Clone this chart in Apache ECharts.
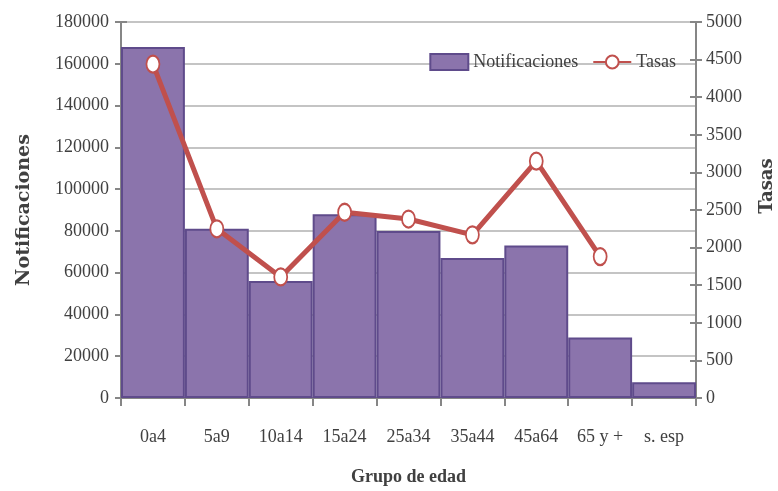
<!DOCTYPE html>
<html>
<head>
<meta charset="utf-8">
<script src="https://cdn.jsdelivr.net/npm/echarts@6/dist/echarts.min.js"></script>
<style>
html,body{margin:0;padding:0;background:#fff;}
#chart{width:778px;height:491px;}
</style>
</head>
<body>
<div id="chart"></div>
<script>
const categories = ['0a4','5a9','10a14','15a24','25a34','35a44','45a64','65 y +','s. esp'];
const notificaciones = [168000, 81000, 56000, 88000, 80000, 67000, 73000, 29000, 7500];
const tasas = [4440, 2250, 1610, 2470, 2380, 2170, 3150, 1880, null];

const FONT = 'Liberation Serif';
const TXT = '#404040';
const AX = '#868686';
const innerTicks = (pos, max, interval) => ({
  type:'value', min:0, max:max, interval:interval, position:pos,
  axisLine:{show:false}, axisLabel:{show:false}, splitLine:{show:false},
  axisTick:{show:true, inside:true, length:6, lineStyle:{color:AX, width:2}}
});
const chart = echarts.init(document.getElementById('chart'), null, {renderer:'canvas'});
chart.setOption({
  animation:false,
  backgroundColor:'#fff',
  grid:{left:121, right:82, top:22, bottom:93, containLabel:false, outerBoundsMode:'none'},
  legend:{
    top:48, right:97, itemGap:14, itemWidth:38, itemHeight:16,
    textStyle:{fontFamily:FONT, fontSize:18, color:TXT},
    data:[
      {name:'Notificaciones', icon:'rect', itemStyle:{color:'#8B74AC', borderColor:'#5F4B8B', borderWidth:2}},
      {name:'Tasas'}
    ]
  },
  xAxis:{
    type:'category', data:categories, boundaryGap:true,
    name:'Grupo de edad', nameLocation:'middle', nameGap:70,
    nameTextStyle:{fontFamily:FONT, fontSize:18, fontWeight:'bold', color:TXT},
    axisLine:{lineStyle:{color:AX, width:2}},
    axisTick:{show:true, length:8, lineStyle:{color:AX, width:2}},
    axisLabel:{fontFamily:FONT, fontSize:18, color:TXT, margin:30}
  },
  yAxis:[
    {
      type:'value', min:0, max:180000, interval:20000,
      name:'Notificaciones', nameLocation:'middle', nameGap:87, nameRotate:90,
      nameTextStyle:{fontFamily:'DejaVu Serif', fontSize:19, fontWeight:'bold', color:TXT},
      axisLine:{show:true, lineStyle:{color:AX, width:2}},
      axisTick:{show:true, length:6, lineStyle:{color:AX, width:2}},
      axisLabel:{fontFamily:FONT, fontSize:18, color:TXT, margin:12, formatter:(v)=>String(v)},
      splitLine:{show:true, lineStyle:{color:'#C4C4C4', width:2}}
    },
    {
      type:'value', min:0, max:5000, interval:500, position:'right',
      name:'Tasas', nameLocation:'middle', nameGap:62, nameRotate:90,
      nameTextStyle:{fontFamily:'DejaVu Serif', fontSize:18, fontWeight:'bold', color:TXT, padding:[0,0,0,48]},
      axisLine:{show:true, lineStyle:{color:AX, width:2}},
      axisTick:{show:true, length:6, lineStyle:{color:AX, width:2}},
      axisLabel:{fontFamily:FONT, fontSize:18, color:TXT, margin:10, formatter:(v)=>String(v)},
      splitLine:{show:false}
    },
    innerTicks('left', 180000, 20000),
    innerTicks('right', 5000, 500)
  ],
  series:[
    {
      name:'Notificaciones', type:'bar', data:notificaciones, yAxisIndex:0,
      barCategoryGap:'0%',
      itemStyle:{color:'#8B74AC', borderColor:'#5F4B8B', borderWidth:2}
    },
    {
      name:'Tasas', type:'line', data:tasas, yAxisIndex:1,
      symbol:'circle', symbolSize:[13,17],
      lineStyle:{color:'#C0504D', width:5},
      itemStyle:{color:'#ffffff', borderColor:'#C0504D', borderWidth:2},
      z:5
    }
  ]
});
</script>
</body>
</html>
